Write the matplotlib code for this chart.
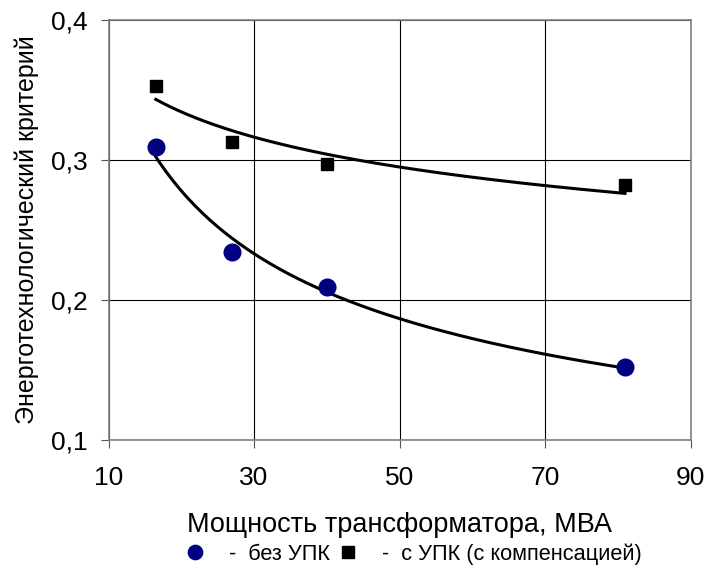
import numpy as np
import matplotlib.pyplot as plt
from matplotlib.lines import Line2D

plt.rcParams['font.family'] = ['Liberation Sans', 'DejaVu Sans']

# мощность трансформатора, МВА
power = [16.5, 27, 40, 81]
# энерготехнологический критерий
crit_no_upk = [0.309, 0.234, 0.209, 0.152]
crit_upk = [0.353, 0.313, 0.297, 0.282]

x_ticks = [10, 30, 50, 70, 90]
y_ticks = [0.1, 0.2, 0.3, 0.4]
y_tick_labels = ["0,1", "0,2", "0,3", "0,4"]


def power_trend(x, y):
    # степенная линия тренда y = a*x^b
    b, ln_a = np.polyfit(np.log(x), np.log(y), 1)
    xs = np.linspace(min(x), max(x), 200)
    return xs, np.exp(ln_a) * xs ** b


fig = plt.figure(figsize=(7.09, 5.67), dpi=100)
ax = fig.add_axes([108.5 / 709, 1 - 440 / 567, 582 / 709, 420 / 567])

xs, ys = power_trend(power, crit_no_upk)
ax.plot(xs, ys, color="black", lw=2.2, zorder=3)
xs, ys = power_trend(power, crit_upk)
ax.plot(xs, ys, color="black", lw=2.2, zorder=3)

ax.plot(power, crit_no_upk, "o", color="#000080", ms=12, mec="#000080", zorder=4, ls="none")
ax.plot(power, crit_upk, "s", color="black", ms=9, zorder=4, ls="none")

ax.set_xlim(10, 90)
ax.set_ylim(0.1, 0.4)
ax.set_xticks(x_ticks)
ax.set_yticks(y_ticks)
ax.set_yticklabels(y_tick_labels)
ax.tick_params(labelsize=19, direction="out", length=6, width=0.8, color="#555555")
ax.tick_params(axis="x", pad=13)
ax.tick_params(axis="y", pad=9)
ax.grid(True, color="black", lw=0.8)
ax.set_axisbelow(True)
for s in ax.spines.values():
    s.set_color("#808080")
    s.set_linewidth(1.2)

ax.set_xlabel("Мощность трансформатора, МВА", fontsize=19.5)
ax.xaxis.set_label_coords(0.5, -0.172)
ax.set_ylabel("Энерготехнологический критерий", fontsize=18)
ax.yaxis.set_label_coords(-0.119, 0.5)

handles = [
    Line2D([], [], marker="o", color="#000080", ls="none", ms=10.3),
    Line2D([], [], marker="s", color="black", ls="none", ms=9.3),
]
fig.legend(handles, ["  -  без УПК", "  -  с УПК (с компенсацией)"],
           loc="center left", bbox_to_anchor=(184 / 709, 1 - 554 / 567), ncol=2,
           frameon=False, fontsize=15.7, handlelength=1.0, handletextpad=0.5,
           columnspacing=0.33, borderaxespad=0, borderpad=0)

fig.savefig("out.png", dpi=100)
